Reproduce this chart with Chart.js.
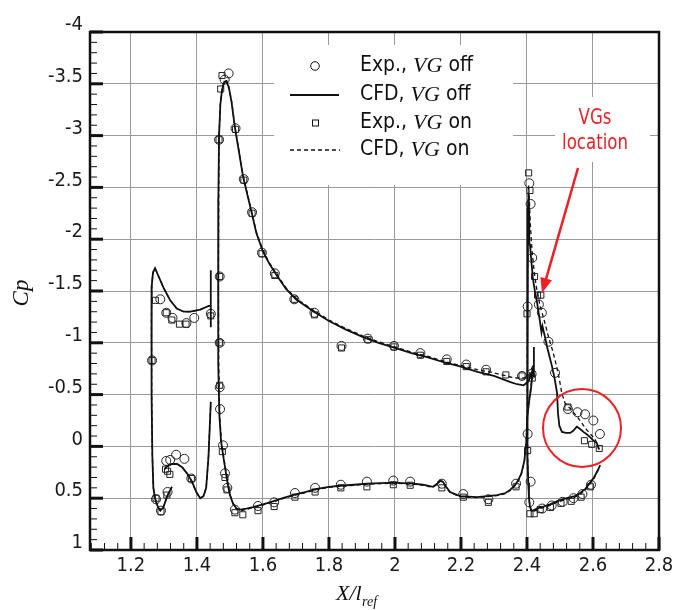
<!DOCTYPE html>
<html>
<head>
<meta charset="utf-8">
<script src="https://cdn.jsdelivr.net/npm/chart.js@4.4.1/dist/chart.umd.min.js"></script>
<style>
  body { margin: 0; background: #fff; }
  #wrap { width: 686px; height: 610px; }
</style>
</head>
<body>
<div id="wrap"><canvas id="cpChart" width="686" height="610"></canvas></div>
<script>
// tick labels
const xTicks = [1.2, 1.4, 1.6, 1.8, 2, 2.2, 2.4, 2.6, 2.8];
const yTicks = [-4, -3.5, -3, -2.5, -2, -1.5, -1, -0.5, 0, 0.5, 1];

// CFD, VG off (solid) - [X/lref, Cp]
const cfdOffSlatStub = [[1.442, -1.15], [1.442, -1.70]];
const cfdOffSlat = [[1.441, -1.36], [1.435, -1.355], [1.41, -1.32], [1.38, -1.30], [1.36, -1.30], [1.339, -1.33],
  [1.319, -1.41], [1.299, -1.53], [1.284, -1.64], [1.273, -1.72], [1.267, -1.68], [1.263, -1.55], [1.262, -1.2],
  [1.263, -0.5], [1.265, 0.1], [1.268, 0.4], [1.273, 0.50], [1.281, 0.58], [1.289, 0.62], [1.298, 0.59],
  [1.31, 0.48], [1.324, 0.39]];
const cfdOffSlatCove = [[1.302, 0.22], [1.31, 0.19], [1.325, 0.17], [1.34, 0.17], [1.355, 0.20], [1.37, 0.26],
  [1.385, 0.34], [1.398, 0.44], [1.41, 0.50], [1.42, 0.48], [1.428, 0.40], [1.435, 0.1], [1.442, -0.43]];
const cfdOffMain = [[2.418, -0.75], [2.405, -0.63], [2.39, -0.59], [2.37, -0.60], [2.35, -0.62], [2.3, -0.68],
  [2.25, -0.72], [2.2, -0.77], [2.15, -0.81], [2.1, -0.86], [2.05, -0.90], [2.0, -0.95], [1.95, -1.00],
  [1.9, -1.06], [1.85, -1.13], [1.8, -1.21], [1.75, -1.31], [1.7, -1.42], [1.67, -1.52], [1.64, -1.66],
  [1.62, -1.76], [1.6, -1.88], [1.58, -2.06], [1.567, -2.24], [1.555, -2.40], [1.54, -2.60], [1.527, -2.85],
  [1.515, -3.08], [1.505, -3.32], [1.497, -3.46], [1.49, -3.52], [1.483, -3.52], [1.476, -3.44], [1.471, -3.30],
  [1.467, -3.0], [1.465, -2.4], [1.464, -1.6], [1.465, -0.8], [1.468, -0.3], [1.473, -0.05], [1.48, 0.1],
  [1.486, 0.22], [1.493, 0.36], [1.50, 0.47], [1.509, 0.55], [1.52, 0.60], [1.531, 0.61], [1.55, 0.60],
  [1.57, 0.585], [1.6, 0.56], [1.621, 0.54], [1.66, 0.50], [1.691, 0.47], [1.73, 0.44], [1.764, 0.41],
  [1.8, 0.39], [1.834, 0.38], [1.875, 0.37], [1.915, 0.36], [1.955, 0.355], [1.994, 0.35], [2.025, 0.355],
  [2.055, 0.36], [2.085, 0.37], [2.115, 0.39], [2.128, 0.36], [2.137, 0.33], [2.145, 0.34], [2.155, 0.39],
  [2.167, 0.44], [2.197, 0.48], [2.249, 0.49], [2.28, 0.48], [2.309, 0.47], [2.335, 0.45], [2.349, 0.42],
  [2.362, 0.38], [2.373, 0.33], [2.383, 0.26], [2.392, 0.14], [2.398, -0.05], [2.401, -0.29], [2.407, -0.45],
  [2.412, -0.55], [2.415, -0.65], [2.418, -0.75]];
const cfdOffMainStub = [[2.421, -0.67], [2.421, -0.96]];
const cfdOffFlap = [[2.618, 0.03], [2.612, -0.03], [2.60, -0.06], [2.591, -0.09], [2.58, -0.12], [2.571, -0.14],
  [2.56, -0.17], [2.551, -0.19], [2.54, -0.15], [2.531, -0.13], [2.518, -0.13], [2.506, -0.14], [2.498, -0.20],
  [2.494, -0.32], [2.491, -0.52], [2.484, -0.65], [2.476, -0.77], [2.468, -0.87], [2.461, -0.96], [2.455, -1.05],
  [2.447, -1.16], [2.444, -1.10], [2.440, -1.19], [2.431, -1.38], [2.424, -1.50], [2.418, -1.62], [2.413, -1.80],
  [2.409, -1.95], [2.407, -2.2], [2.405, -2.45], [2.403, -2.30], [2.402, -1.8], [2.401, -1.0], [2.401, -0.3],
  [2.402, 0.1], [2.404, 0.35], [2.406, 0.5], [2.409, 0.58], [2.414, 0.62], [2.418, 0.62], [2.43, 0.60],
  [2.45, 0.58], [2.47, 0.56], [2.49, 0.53], [2.52, 0.50], [2.545, 0.48], [2.561, 0.45], [2.577, 0.41],
  [2.591, 0.35], [2.603, 0.30], [2.611, 0.25], [2.616, 0.22], [2.622, 0.18]];

// CFD, VG on (dashed) - slat coincides with the VG off curve
const cfdOnMain = [[2.418, -0.78], [2.405, -0.68], [2.39, -0.66], [2.37, -0.66], [2.35, -0.67], [2.3, -0.71],
  [2.25, -0.74], [2.2, -0.78], [2.15, -0.82], [2.1, -0.87], [2.05, -0.91], [2.0, -0.96], [1.95, -1.01],
  [1.9, -1.07], [1.85, -1.14], [1.8, -1.22], [1.75, -1.32], [1.7, -1.43], [1.67, -1.53], [1.64, -1.67],
  [1.62, -1.77], [1.6, -1.89], [1.58, -2.07], [1.567, -2.25], [1.555, -2.41], [1.54, -2.61], [1.527, -2.86],
  [1.515, -3.09], [1.505, -3.33], [1.497, -3.47], [1.49, -3.53], [1.483, -3.53], [1.476, -3.45], [1.471, -3.31],
  [1.467, -3.0], [1.466, -2.4], [1.465, -1.6], [1.466, -0.8], [1.469, -0.3], [1.474, -0.05], [1.481, 0.1],
  [1.487, 0.22], [1.494, 0.36], [1.501, 0.47], [1.51, 0.56], [1.521, 0.61], [1.532, 0.62], [1.55, 0.61],
  [1.57, 0.59], [1.6, 0.565], [1.621, 0.545], [1.66, 0.505], [1.691, 0.475], [1.73, 0.445], [1.764, 0.415],
  [1.8, 0.395], [1.834, 0.385], [1.875, 0.375], [1.915, 0.365], [1.955, 0.36], [1.994, 0.355], [2.025, 0.36],
  [2.055, 0.365], [2.085, 0.375], [2.115, 0.395], [2.128, 0.365], [2.137, 0.335], [2.145, 0.345], [2.155, 0.395],
  [2.167, 0.445], [2.197, 0.485], [2.249, 0.495], [2.28, 0.485], [2.309, 0.475], [2.335, 0.455], [2.349, 0.425],
  [2.362, 0.385], [2.373, 0.335], [2.383, 0.265], [2.392, 0.145], [2.398, -0.05], [2.401, -0.30], [2.407, -0.47],
  [2.412, -0.58], [2.415, -0.68], [2.418, -0.78]];
const cfdOnFlap = [[2.619, 0.03], [2.612, -0.03], [2.606, -0.07], [2.595, -0.11], [2.581, -0.16], [2.565, -0.23],
  [2.551, -0.29], [2.535, -0.35], [2.515, -0.42], [2.505, -0.52], [2.498, -0.65], [2.490, -0.77], [2.478, -0.92],
  [2.465, -1.06], [2.452, -1.22], [2.440, -1.35], [2.430, -1.51], [2.422, -1.68], [2.415, -1.90], [2.410, -2.15],
  [2.407, -2.40], [2.405, -2.52], [2.403, -2.3], [2.402, -1.8], [2.401, -1.0], [2.401, -0.3], [2.402, 0.1],
  [2.404, 0.35], [2.406, 0.5], [2.409, 0.58], [2.414, 0.63], [2.418, 0.63], [2.43, 0.61], [2.45, 0.59],
  [2.47, 0.57], [2.49, 0.54], [2.52, 0.51], [2.545, 0.49], [2.561, 0.46], [2.577, 0.42], [2.591, 0.36],
  [2.603, 0.31], [2.611, 0.26], [2.618, 0.22]];

// Exp., VG off (circles)
const expOff = [[1.264, -0.83], [1.289, -1.42], [1.307, -1.29], [1.326, -1.24], [1.368, -1.19], [1.392, -1.24],
  [1.442, -1.28], [1.276, 0.51], [1.291, 0.62], [1.311, 0.44], [1.307, 0.14], [1.319, 0.13], [1.337, 0.08],
  [1.362, 0.12], [1.383, 0.31],
  [1.496, -3.60], [1.484, -3.54], [1.467, -2.96], [1.517, -3.07], [1.542, -2.58], [1.567, -2.26], [1.597, -1.87],
  [1.636, -1.67], [1.695, -1.42], [1.756, -1.29], [1.838, -0.97], [1.918, -1.04], [1.997, -0.97], [2.077, -0.90],
  [2.157, -0.84], [2.216, -0.79], [2.276, -0.74], [2.385, -0.68],
  [1.469, -1.64], [1.469, -1.0], [1.469, -0.57], [1.470, -0.36], [1.479, -0.01], [1.485, 0.26], [1.492, 0.40],
  [1.515, 0.61], [1.585, 0.575], [1.634, 0.54], [1.697, 0.45], [1.758, 0.40], [1.836, 0.37], [1.915, 0.34],
  [1.995, 0.33], [2.046, 0.34], [2.142, 0.36], [2.207, 0.46], [2.283, 0.51], [2.367, 0.36],
  [2.407, -2.54], [2.411, -2.34], [2.416, -1.82], [2.402, -1.35], [2.436, -1.37], [2.445, -1.29], [2.465, -1.01],
  [2.485, -0.71], [2.524, -0.36], [2.553, -0.33], [2.576, -0.31], [2.601, -0.25], [2.621, -0.12], [2.402, -0.12],
  [2.411, 0.34], [2.407, 0.54], [2.414, -0.70],
  [2.446, 0.60], [2.475, 0.57], [2.508, 0.535], [2.541, 0.50], [2.568, 0.46], [2.594, 0.37]];

// Exp., VG on (squares)
const expOn = [[1.264, -0.83], [1.274, -1.41], [1.307, -1.29], [1.324, -1.22], [1.347, -1.18], [1.367, -1.18],
  [1.442, -1.26], [1.276, 0.50], [1.291, 0.63], [1.309, 0.47], [1.305, 0.22], [1.311, 0.24], [1.318, 0.27],
  [1.383, 0.31],
  [1.476, -3.58], [1.472, -3.45], [1.467, -2.96], [1.517, -3.06], [1.542, -2.57], [1.567, -2.25], [1.597, -1.86],
  [1.636, -1.65], [1.695, -1.42], [1.756, -1.27], [1.838, -0.95], [1.918, -1.03], [1.997, -0.96], [2.077, -0.88],
  [2.157, -0.82], [2.216, -0.77], [2.276, -0.72], [2.336, -0.69], [2.385, -0.68],
  [1.469, -1.64], [1.468, -1.0], [1.469, -0.59], [1.477, 0.05], [1.485, 0.30], [1.491, 0.42],
  [1.515, 0.64], [1.539, 0.66], [1.585, 0.62], [1.634, 0.58], [1.697, 0.49], [1.758, 0.44], [1.836, 0.40],
  [1.915, 0.39], [1.995, 0.37], [2.046, 0.375], [2.142, 0.40], [2.207, 0.49], [2.283, 0.54], [2.367, 0.39],
  [2.405, -2.64], [2.409, -2.47], [2.423, -1.64], [2.432, -1.46], [2.442, -1.46], [2.400, -1.28], [2.416, -0.66],
  [2.524, -0.38], [2.574, -0.055], [2.596, -0.02], [2.619, 0.02], [2.402, 0.04],
  [2.409, 0.65], [2.422, 0.65], [2.440, 0.61], [2.471, 0.59], [2.503, 0.55], [2.534, 0.53], [2.564, 0.49],
  [2.592, 0.39]];

const SANS = "'Liberation Sans Narrow', 'DejaVu Sans Condensed', 'Open Sans', sans-serif";
const SERIF = "'Liberation Serif', 'DejaVu Serif', serif";
const RED = '#ec2027';

const toXY = arr => arr.map(p => ({ x: p[0], y: p[1] }));

function lineSet(arr, dashed) {
    return {
        data: toXY(arr),
        showLine: true,
        pointRadius: 0,
        borderColor: '#111',
        borderWidth: dashed ? 1.3 : 1.8,
        borderDash: dashed ? [4, 3] : [],
        tension: 0,
        fill: false
    };
}

// draws a row of text pieces with different fonts
function richText(ctx, parts, x, y) {
    parts.forEach(p => {
        ctx.font = p[1];
        ctx.fillText(p[0], x, y);
        x += ctx.measureText(p[0]).width;
    });
}

const decor = {
    id: 'decor',
    beforeDatasetsDraw(chart) {
        const { ctx, chartArea: a, scales: { x, y } } = chart;
        ctx.save();
        // white boxes behind legend and note
        ctx.fillStyle = '#fff';
        ctx.fillRect(274, 45, 239, 140);
        ctx.fillRect(555, 97, 95, 65);
        // inward ticks
        ctx.strokeStyle = '#111';
        for (let i = 0; i <= 50; i++) {
            const py = y.getPixelForValue(-4 + i * 0.1);
            const major = i % 5 === 0;
            ctx.lineWidth = major ? 3 : 1;
            ctx.beginPath();
            ctx.moveTo(a.left, py);
            ctx.lineTo(a.left + (major ? 13 : 7), py);
            ctx.stroke();
        }
        for (let k = -3; k <= 40; k++) {
            const px = x.getPixelForValue(1.2 + k * 0.04);
            const major = k % 5 === 0;
            ctx.lineWidth = major ? 3 : 1;
            ctx.beginPath();
            ctx.moveTo(px, a.bottom);
            ctx.lineTo(px, a.bottom - (major ? 13 : 7));
            ctx.stroke();
        }
        ctx.restore();
    },
    afterDatasetsDraw(chart) {
        const { ctx, chartArea: a } = chart;
        ctx.save();
        // frame
        ctx.strokeStyle = '#111';
        ctx.lineWidth = 2.5;
        ctx.strokeRect(a.left, a.top, a.right - a.left, a.bottom - a.top);

        // legend
        const rows = [66, 95, 123, 150];
        ctx.lineWidth = 1;
        ctx.beginPath();
        ctx.arc(315, rows[0], 4.3, 0, Math.PI * 2);
        ctx.stroke();
        ctx.strokeRect(312.5, rows[2] - 3, 6, 6);
        ctx.lineWidth = 1.8;
        ctx.beginPath();
        ctx.moveTo(290, rows[1]);
        ctx.lineTo(339, rows[1]);
        ctx.stroke();
        ctx.lineWidth = 1.3;
        ctx.setLineDash([4, 3]);
        ctx.beginPath();
        ctx.moveTo(290, rows[3]);
        ctx.lineTo(340, rows[3]);
        ctx.stroke();
        ctx.setLineDash([]);

        const reg = '21px ' + SANS, ital = 'italic 22px ' + SERIF;
        ctx.fillStyle = '#111';
        ctx.textBaseline = 'middle';
        ctx.textAlign = 'left';
        richText(ctx, [['Exp., ', reg], ['VG', ital], [' off', reg]], 360, rows[0]);
        richText(ctx, [['CFD, ', reg], ['VG', ital], [' off', reg]], 360, rows[1]);
        richText(ctx, [['Exp., ', reg], ['VG', ital], [' on', reg]], 360, rows[2]);
        richText(ctx, [['CFD, ', reg], ['VG', ital], [' on', reg]], 360, rows[3]);

        // axis titles
        ctx.textBaseline = 'alphabetic';
        richText(ctx, [['X/l', 'italic 22px ' + SERIF]], 336, 600);
        richText(ctx, [['ref', 'italic 14px ' + SERIF]], 362, 606);
        ctx.save();
        ctx.translate(28, 293);
        ctx.rotate(-Math.PI / 2);
        ctx.textAlign = 'center';
        ctx.font = 'italic 23px ' + SERIF;
        ctx.fillText('Cp', 0, 0);
        ctx.restore();

        // red note, arrow and circle
        ctx.fillStyle = RED;
        ctx.strokeStyle = RED;
        ctx.textAlign = 'center';
        ctx.textBaseline = 'middle';
        ctx.font = '22px ' + SANS;
        ctx.save();
        ctx.translate(595, 0);
        ctx.scale(0.84, 1);
        ctx.fillText('VGs', 0, 118);
        ctx.fillText('location', 0, 143);
        ctx.restore();

        const x0 = 578, y0 = 168, x1 = 542, y1 = 293;
        const ang = Math.atan2(y1 - y0, x1 - x0);
        ctx.lineWidth = 2.5;
        ctx.beginPath();
        ctx.moveTo(x0, y0);
        ctx.lineTo(x1 - 10 * Math.cos(ang), y1 - 10 * Math.sin(ang));
        ctx.stroke();
        ctx.beginPath();
        ctx.moveTo(x1, y1);
        ctx.lineTo(x1 - 15 * Math.cos(ang) + 6 * Math.sin(ang), y1 - 15 * Math.sin(ang) - 6 * Math.cos(ang));
        ctx.lineTo(x1 - 15 * Math.cos(ang) - 6 * Math.sin(ang), y1 - 15 * Math.sin(ang) + 6 * Math.cos(ang));
        ctx.closePath();
        ctx.fill();

        ctx.lineWidth = 2;
        ctx.beginPath();
        ctx.arc(582, 428, 39, 0, Math.PI * 2);
        ctx.stroke();
        ctx.restore();
    }
};

const datasets = [
    lineSet(cfdOffSlatStub, false), lineSet(cfdOffSlat, false), lineSet(cfdOffSlatCove, false),
    lineSet(cfdOffMain, false), lineSet(cfdOffMainStub, false), lineSet(cfdOffFlap, false),
    lineSet(cfdOffSlat, true), lineSet(cfdOffSlatCove, true), lineSet(cfdOnMain, true), lineSet(cfdOnFlap, true),
    {
        data: toXY(expOff), pointStyle: 'circle', pointRadius: 4.5, borderWidth: 1,
        borderColor: '#222', backgroundColor: 'rgba(0,0,0,0)', showLine: false
    },
    {
        data: toXY(expOn), pointStyle: 'rect', pointRadius: 4.3, borderWidth: 1,
        borderColor: '#222', backgroundColor: 'rgba(0,0,0,0)', showLine: false
    }
];

new Chart(document.getElementById('cpChart'), {
    type: 'scatter',
    data: { datasets: datasets },
    options: {
        responsive: false,
        animation: false,
        layout: { padding: { top: 32, right: 27, left: 0, bottom: 0 } },
        scales: {
            x: {
                type: 'linear', min: 1.076, max: 2.8,
                afterBuildTicks: s => { s.ticks = xTicks.map(v => ({ value: v })); },
                afterFit: s => { s.height = 60; },
                ticks: {
                    callback: v => String(v), color: '#1a1a1a', padding: 4,
                    maxRotation: 0, autoSkip: false, font: { family: SANS, size: 20 }
                },
                grid: { color: '#9a9a9a', lineWidth: 1, drawTicks: false },
                border: { display: false }
            },
            y: {
                type: 'linear', reverse: true, min: -4, max: 1,
                afterBuildTicks: s => { s.ticks = yTicks.map(v => ({ value: v })); },
                afterFit: s => { s.width = 90; },
                ticks: {
                    callback: v => String(v), color: '#1a1a1a', padding: 7, labelOffset: -7,
                    autoSkip: false, font: { family: SANS, size: 20 }
                },
                grid: { color: '#9a9a9a', lineWidth: 1, drawTicks: false },
                border: { display: false }
            }
        },
        plugins: {
            legend: { display: false },
            tooltip: { enabled: false }
        }
    },
    plugins: [decor]
});
</script>
</body>
</html>
